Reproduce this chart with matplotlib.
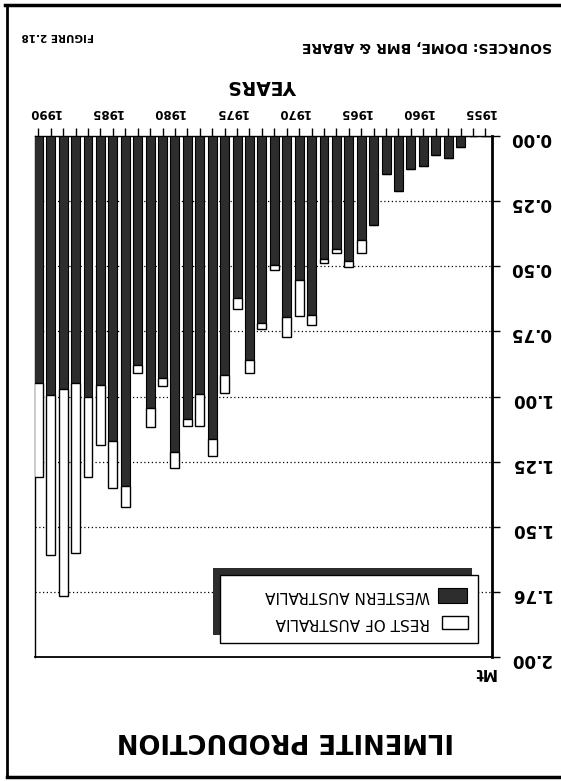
import numpy as np
import matplotlib
matplotlib.use('Agg')
import matplotlib.pyplot as plt
from matplotlib.patches import Rectangle
from matplotlib.lines import Line2D

plt.rcParams['font.family'] = ['DejaVu Sans']

# data (Mt), page is printed upside down
years = np.arange(1954, 1991)
western = [0, 0, 0.041, 0.086, 0.073, 0.115, 0.128, 0.212, 0.144, 0.342,
           0.400, 0.481, 0.433, 0.471, 0.688, 0.554, 0.695, 0.497, 0.718, 0.858,
           0.622, 0.917, 1.163, 0.990, 1.087, 1.214, 0.928, 1.045, 0.878, 1.345,
           1.172, 0.954, 1.003, 0.949, 0.970, 0.996, 0.949]
total = [0, 0, 0.041, 0.086, 0.073, 0.115, 0.128, 0.212, 0.144, 0.342,
         0.451, 0.503, 0.449, 0.487, 0.727, 0.691, 0.772, 0.513, 0.742, 0.910,
         0.665, 0.986, 1.227, 1.113, 1.113, 1.274, 0.959, 1.118, 0.909, 1.426,
         1.351, 1.185, 1.308, 1.599, 1.765, 1.608, 1.308]
rest = [t - w for t, w in zip(total, western)]

ytick_vals = [0, 0.25, 0.5, 0.75, 1.0, 1.25, 1.5, 1.75, 2.0]
ytick_labels = ['0.00', '0.25', '0.50', '0.75', '1.00', '1.25', '1.50', '1.76', '2.00']
year_labels = [1955, 1960, 1965, 1970, 1975, 1980, 1985, 1990]
series_names = ['WESTERN AUSTRALIA', 'REST OF AUSTRALIA']

W, H = 561, 781
def fx(x):
    return x / W
def fy(y):
    return 1 - y / H

fig = plt.figure(figsize=(W / 100, H / 100), dpi=100)
ax = fig.add_axes([fx(35), fy(657), fx(492) - fx(35), fy(136) - fy(657)])

dark = '#2d2d2d'
ax.bar(years, western, width=0.72, color=dark, edgecolor='black', lw=0.8, zorder=3)
ax.bar(years, rest, bottom=western, width=0.72, color='white', edgecolor='black', lw=1, zorder=3)

ax.set_xlim(1990.27, 1953.47)
ax.set_ylim(2.0, 0.0)

ax.xaxis.tick_top()
ax.set_xticks(years)
ax.set_xticklabels([])
ax.tick_params(axis='x', direction='out', length=6, width=1, color='black')

ax.yaxis.tick_right()
ax.set_yticks(ytick_vals)
ax.set_yticklabels(ytick_labels, rotation=180, fontsize=12, fontweight='bold')
ax.tick_params(axis='y', direction='out', length=6, width=1, pad=7)

ax.yaxis.grid(True, linestyle=(0, (1, 2)), color='black', lw=0.9)
ax.set_axisbelow(True)

for side, lw in [('right', 2), ('top', 1), ('left', 1), ('bottom', 1.3)]:
    ax.spines[side].set_linewidth(lw)
    ax.spines[side].set_color('black')

for yr in year_labels:
    ax.text(yr - 0.5, 1.046, str(yr), transform=ax.get_xaxis_transform(),
            rotation=180, ha='center', va='center', fontsize=8.5, fontweight='bold')

# texts around the chart (rotated 180)
fig.text(fx(285), fy(740), 'ILMENITE PRODUCTION', rotation=180, ha='center', va='center',
         fontsize=18.5, fontweight='bold')
fig.text(fx(484), fy(672), 'Mt', rotation=180, ha='center', va='center',
         fontsize=11, fontweight='bold')
fig.text(fx(263), fy(86), 'YEARS', rotation=180, ha='center', va='center',
         fontsize=13.5, fontweight='bold')
fig.text(fx(427), fy(46), 'SOURCES: DOME, BMR & ABARE', rotation=180, ha='center', va='center',
         fontsize=10, fontweight='bold')
fig.text(fx(58), fy(36), 'FIGURE 2.18', rotation=180, ha='center', va='center',
         fontsize=7.5, fontweight='bold')

# legend with shadow
def box(x0, y0, x1, y1, **kw):
    r = Rectangle((fx(x0), fy(y1)), fx(x1) - fx(x0), fy(y0) - fy(y1),
                  transform=fig.transFigure, **kw)
    fig.add_artist(r)

box(213, 568, 472, 635, facecolor=dark, edgecolor='none')
box(220, 575, 478, 643, facecolor='white', edgecolor='black', lw=1)
box(438, 588, 467, 603, facecolor=dark, edgecolor='black', lw=0.8)
box(442, 616, 468, 629, facecolor='white', edgecolor='black', lw=1)
fig.text(fx(430), fy(595.5), series_names[0], rotation=180, ha='right', va='center', fontsize=11)
fig.text(fx(430), fy(622), series_names[1], rotation=180, ha='right', va='center', fontsize=11)

# page frame
fig.add_artist(Line2D([fx(7), fx(7)], [fy(5), fy(777)], transform=fig.transFigure, lw=2, color='black'))
fig.add_artist(Line2D([fx(5), fx(561)], [fy(5), fy(5)], transform=fig.transFigure, lw=2.5, color='black'))
fig.add_artist(Line2D([fx(7), fx(561)], [fy(777), fy(777)], transform=fig.transFigure, lw=2.5, color='black'))

fig.savefig('out.png', dpi=100)
